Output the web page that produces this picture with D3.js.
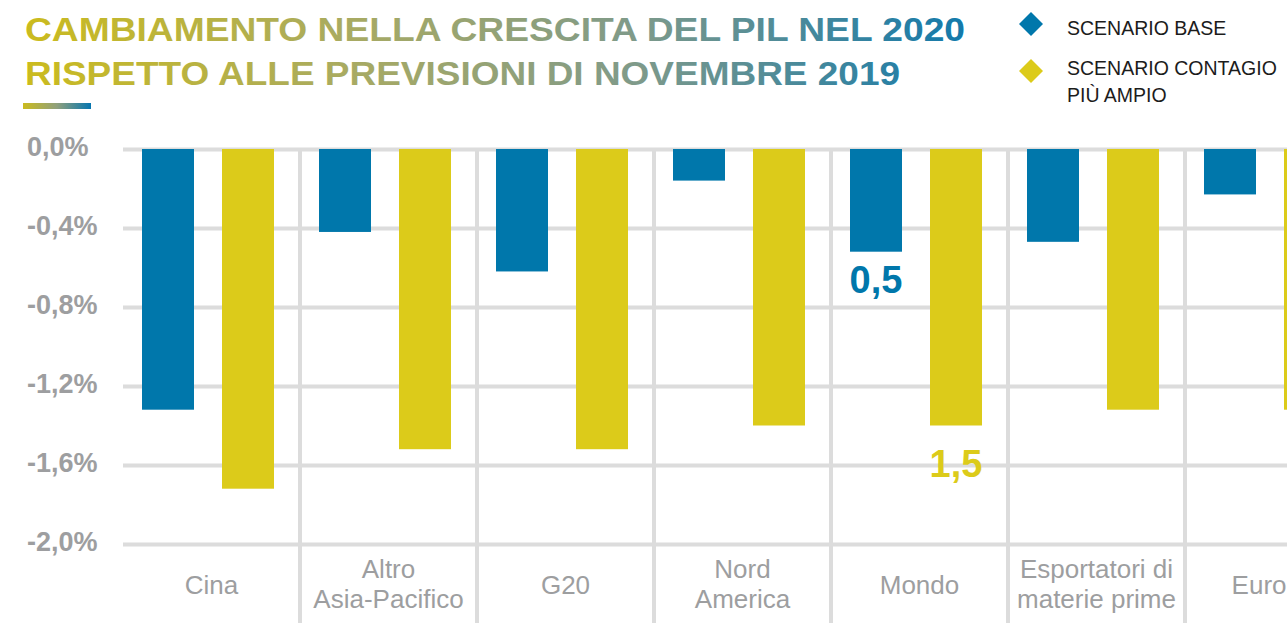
<!DOCTYPE html>
<html lang="it">
<head>
<meta charset="UTF-8">
<title>Cambiamento nella crescita del PIL nel 2020</title>
<script src="https://cdn.jsdelivr.net/npm/d3@7"></script>
<style>
    body { margin: 0; background: #fff; }
    svg { display: block; font-family: "Liberation Sans", Arial, Helvetica, sans-serif; }
    .grid line { stroke: #dcdcdc; stroke-width: 4; }
    .grid path { display: none; }
    .ytick text { fill: #9d9ea0; font-weight: bold; font-size: 27px; }
    .cat text { fill: #9d9ea0; font-size: 26px; }
    .legend text { fill: #1c1c1c; font-size: 19.5px; }
</style>
</head>
<body>
<svg width="1287" height="623"></svg>
<script>
    // data (percentage points)
    const categories = ["Cina", "Altro|Asia-Pacifico", "G20", "Nord|America", "Mondo",
                        "Esportatori di|materie prime", "Europa"];
    const seriesNames = ["SCENARIO BASE", "SCENARIO CONTAGIO PIÙ AMPIO"];
    const baseValues = [-1.32, -0.42, -0.62, -0.16, -0.52, -0.47, -0.23];
    const wideValues = [-1.72, -1.52, -1.52, -1.40, -1.40, -1.32, -1.32];
    const yTicks = [0, -0.4, -0.8, -1.2, -1.6, -2.0];
    const annotations = [
        {cat: "Mondo", series: 0, text: "0,5"},
        {cat: "Mondo", series: 1, text: "1,5"}
    ];

    const colors = ["#0077ab", "#dccb1a"];
    const values = [baseValues, wideValues];

    const svg = d3.select("svg");
    const W = 1287, H = 623;

    const it = d3.formatLocale({decimal: ",", thousands: ".", grouping: [3], currency: ["", "€"], minus: "-"});
    const fmt = it.format(".1f");

    // scales (the last band runs past the right edge, as in the source)
    const left = 123, step = 177;
    const x0 = d3.scaleBand()
        .domain(categories)
        .range([left, left + step * categories.length])
        .paddingInner(0).paddingOuter(0);
    // two bars of 52px, 28px apart, starting 19px into each band
    const x1 = d3.scaleBand()
        .domain([0, 1])
        .range([19, 151])
        .paddingInner(0.35).paddingOuter(0);
    const y = d3.scaleLinear().domain([-2, 0]).range([544, 149]);

    // gradient defs
    const defs = svg.append("defs");
    const tg = defs.append("linearGradient").attr("id", "titleGrad")
        .attr("gradientUnits", "userSpaceOnUse").attr("x1", 25).attr("x2", 965).attr("y1", 0).attr("y2", 0);
    [["0%", "#cbbb1e"], ["35%", "#a8aa63"], ["65%", "#7f9a8a"], ["100%", "#1379ab"]]
        .forEach(s => tg.append("stop").attr("offset", s[0]).attr("stop-color", s[1]));
    const ug = defs.append("linearGradient").attr("id", "barGrad");
    [["0%", "#cbbb1e"], ["50%", "#8fa07c"], ["100%", "#0676b0"]]
        .forEach(s => ug.append("stop").attr("offset", s[0]).attr("stop-color", s[1]));

    // title
    const title = svg.append("g").attr("fill", "url(#titleGrad)")
        .attr("font-weight", "bold").attr("font-size", 34);
    title.append("text").attr("x", 25).attr("y", 41)
        .attr("textLength", 940).attr("lengthAdjust", "spacingAndGlyphs")
        .text("CAMBIAMENTO NELLA CRESCITA DEL PIL NEL 2020");
    title.append("text").attr("x", 25).attr("y", 85)
        .attr("textLength", 875).attr("lengthAdjust", "spacingAndGlyphs")
        .text("RISPETTO ALLE PREVISIONI DI NOVEMBRE 2019");
    svg.append("rect").attr("x", 23).attr("y", 103).attr("width", 68).attr("height", 6)
        .attr("fill", "url(#barGrad)");

    // legend
    const legend = svg.append("g").attr("class", "legend");
    const legY = [24, 71];
    seriesNames.forEach((name, i) => {
        legend.append("path")
            .attr("d", d3.symbol(d3.symbolSquare, 288)())
            .attr("transform", `translate(1031,${legY[i]}) rotate(45)`)
            .attr("fill", colors[i]);
    });
    legend.append("text").attr("x", 1067).attr("y", 35).text(seriesNames[0]);
    legend.append("text").attr("x", 1067).attr("y", 75).text("SCENARIO CONTAGIO");
    legend.append("text").attr("x", 1067).attr("y", 102).text("PIÙ AMPIO");

    // horizontal grid + y labels
    const yAxis = svg.append("g").attr("class", "grid ytick")
        .attr("transform", `translate(${left},0)`)
        .call(d3.axisLeft(y).tickValues(yTicks).tickSize(-(W - left)).tickFormat(d => fmt(d) + "%"));
    yAxis.selectAll("text")
        .attr("x", 27 - left).attr("dy", null).attr("y", 6)
        .attr("text-anchor", "start");

    // vertical separators
    svg.append("g").attr("class", "grid")
        .selectAll("line")
        .data(categories.slice(1))
        .join("line")
        .attr("x1", d => x0(d)).attr("x2", d => x0(d))
        .attr("y1", y(0)).attr("y2", H);

    // bars
    const groups = svg.append("g").selectAll("g")
        .data(categories)
        .join("g")
        .attr("transform", d => `translate(${x0(d)},0)`);
    groups.selectAll("rect")
        .data((d, ci) => values.map((v, si) => ({si, v: v[ci]})))
        .join("rect")
        .attr("x", d => x1(d.si))
        .attr("width", x1.bandwidth())
        .attr("y", y(0))
        .attr("height", d => y(d.v) - y(0))
        .attr("fill", d => colors[d.si]);

    // value annotations under the Mondo bars
    const labelOffset = [41, 51];
    svg.append("g").selectAll("text")
        .data(annotations)
        .join("text")
        .attr("x", d => x0(d.cat) + x1(d.series) + x1.bandwidth() / 2)
        .attr("y", d => y(values[d.series][categories.indexOf(d.cat)]) + labelOffset[d.series])
        .attr("text-anchor", "middle")
        .attr("font-weight", "bold").attr("font-size", 38)
        .attr("fill", d => colors[d.series])
        .text(d => d.text);

    // category labels, one text per line
    const catAxis = svg.append("g").attr("class", "cat")
        .attr("transform", `translate(0,${y(-2)})`)
        .call(d3.axisBottom(x0).tickSize(0).tickFormat(""));
    catAxis.select(".domain").remove();
    catAxis.selectAll(".tick").each(function(d) {
        const lines = d.split("|");
        const base = lines.length === 1 ? [50] : [34, 64];
        lines.forEach((ln, i) => d3.select(this).append("text")
            .attr("text-anchor", "middle")
            .attr("y", base[i])
            .text(ln));
    });
</script>
</body>
</html>
